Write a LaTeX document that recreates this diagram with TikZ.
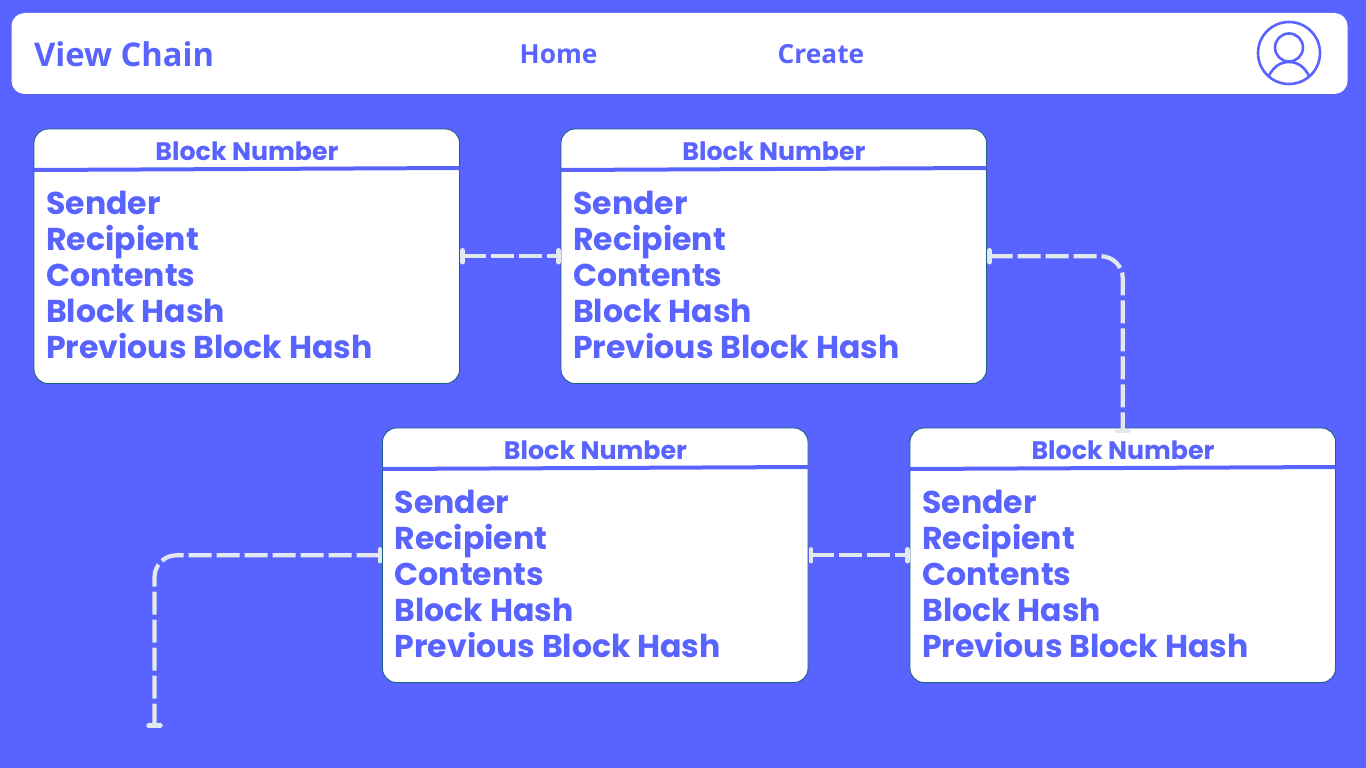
\documentclass[tikz,border=0pt]{standalone}
\usepackage{fontspec}
\usetikzlibrary{arrows.meta}
\setmainfont{Poppins}[BoldFont={Poppins Bold}]
\newfontfamily\navfont{Open Sans}[BoldFont={Open Sans Bold}]
\definecolor{bgblue}{HTML}{5963FF}
\definecolor{cardedge}{HTML}{1F5F80}
\definecolor{linkgrey}{HTML}{E2E8F0}
\tikzset{
  x=1pt,y=-1pt,
  card/.style={draw=cardedge,line width=0.9pt,fill=white,rounded corners=14pt,minimum width=425.5pt,minimum height=254.5pt,inner sep=0pt,outer sep=0pt},
  cardtitle/.style={text=bgblue,font=\bfseries\fontsize{25.3}{28}\selectfont,inner sep=0pt,anchor=base},
  cardbody/.style={text=bgblue,font=\bfseries\fontsize{31.55}{36}\selectfont,inner sep=0pt,anchor=north west,align=left},
  divider/.style={draw=bgblue,line width=4pt},
  navtext/.style={text=bgblue,font=\navfont\bfseries\fontsize{26.3}{28}\selectfont,inner sep=0pt,anchor=base west},
  link/.style={draw=linkgrey,line width=4.2pt,dash pattern=on 23pt off 5pt,rounded corners=22pt},
  barend/.style={draw=linkgrey,line width=4.4pt,line cap=round},
  icon/.style={draw=bgblue,line width=2.6pt}
}
\newcommand{\blockcard}[3]{%
  \node[card] (#1) at (#2+212.75,#3+127.25) {};
  \node[cardtitle] (#1-title) at (#2+213,#3+31) {Block Number};
  \draw[divider] (#2,#3+41) -- (#2+425.5,#3+39);
  \node[cardbody] (#1-body) at (#2+12,#3+62) {Sender\\Recipient\\Contents\\Block Hash\\Previous Block Hash};
}
\begin{document}
\begin{tikzpicture}
\useasboundingbox (0,0) rectangle (1366,768);
\fill[bgblue] (0,0) rectangle (1366,768);
\node[fill=white,rounded corners=13pt,minimum width=1336pt,minimum height=81pt,inner sep=0pt] (bar) at (679.5,53.5) {};
\node[navtext,font=\navfont\bfseries\fontsize{32.7}{36}\selectfont] (title) at (34,66.5) {View Chain};
\node[navtext] (home) at (519.5,63.5) {Home};
\node[navtext] (create) at (777.5,63.5) {Create};
\node[circle,icon,minimum size=62pt,inner sep=0pt] (user) at (1289,53) {};
\node[circle,icon,minimum size=28pt,inner sep=0pt] (head) at (1289,47.5) {};
\draw[icon] (1269,75.5) .. controls (1274,66) and (1281,62) .. (1289,62) .. controls (1297,62) and (1304,66) .. (1309,76);
\blockcard{a}{34}{129}
\blockcard{b}{561}{129}
\blockcard{c}{382.5}{428}
\blockcard{d}{910}{428}
\coordinate (tail) at (154.5,725.5);
\draw[link] ([xshift=3pt]a.east) -- ([xshift=-3pt]b.west);
\draw[link] ([xshift=3pt]b.east) -- (b.east -| d.north) -- ([yshift=-3pt]d.north);
\draw[link] ([xshift=3pt]c.east) -- ([xshift=-3pt]d.west);
\draw[link] ([xshift=-3pt]c.west) -- (c.west -| tail) -- (tail);
\foreach \n in {a,b,c}{
  \draw[barend] ([xshift=3pt,yshift=-6pt]\n.east) -- ([xshift=3pt,yshift=6pt]\n.east);
}
\foreach \n in {b,c,d}{
  \draw[barend] ([xshift=-2.5pt,yshift=-6pt]\n.west) -- ([xshift=-2.5pt,yshift=6pt]\n.west);
}
\draw[barend] ([xshift=-6pt,yshift=-3pt]d.north) -- ([xshift=6pt,yshift=-3pt]d.north);
\draw[barend] ([xshift=-6pt]tail) -- ([xshift=6pt]tail);
\end{tikzpicture}
\end{document}
